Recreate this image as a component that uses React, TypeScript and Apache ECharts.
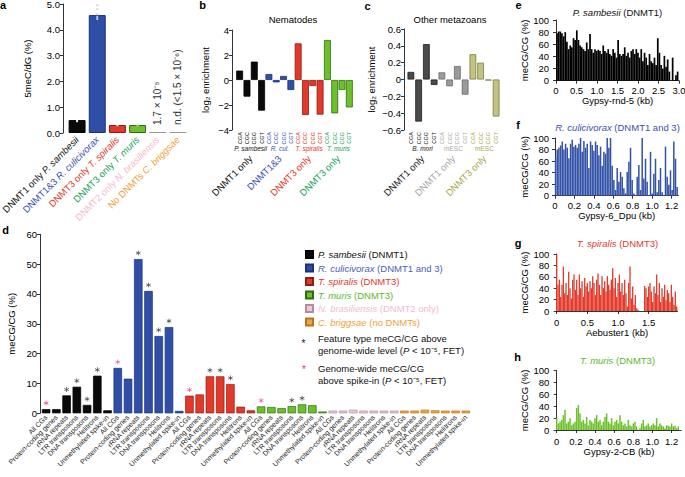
import React, { useEffect, useRef } from "react";
import * as echarts from "echarts";

const FONT = '"Liberation Sans", Arial, Helvetica, sans-serif';

// ---------- Panel a ----------
const aPrefixes = ["DNMT1 only", "DNMT1&3", "DNMT3 only", "DNMT3 only", "DNMT2 only", "No DNMTs"];
const aSpecies = ["P. sambesii", "R. culicivorax", "T. spiralis", "T. muris", "N. brasiliensis", "C. briggsae"];
const aMeasured = [0.5, 4.57, 0.31, 0.31];
const aTrace = [1.7e-5, 0];
const aTraceText = ["1.7 × 10⁻⁵", "n.d. (<1.5 × 10⁻⁶)"];
const aReplicates = [[0.45, 0.47, 0.48], [4.42, 4.5, 4.6, 4.8, 4.95], [0.3, 0.31], [0.3, 0.32]];

// ---------- Panel b (nematodes) ----------
const cgTypes = ["CGA", "CGC", "CGG", "CGT"];
const nemSpecies = ["P. sambesii", "R. cul.", "T. spiralis", "T. muris"];
const nemGroups = ["DNMT1 only", "DNMT1&3", "DNMT3 only", "DNMT3 only"];
const nemPsam = [0.75, -1.33, 1.47, -2.45];
const nemRcul = [0.48, -0.19, 0.32, -0.8];
const nemTspi = [2.93, -2.8, -0.48, -2.77];
const nemTmur = [3.2, -2.67, -0.8, -2.19];

// ---------- Panel c (other metazoans) ----------
const metaSpecies = ["B. mori", "mESC", "mESC"];
const metaGroups = ["DNMT1 only", "DNMT1 only", "DNMT3 only"];
const metaBmori = [0.09, -0.5, 0.42, -0.065];
const metaMescD1 = [0.085, -0.08, 0.16, -0.18];
const metaMescD3 = [0.3, 0.2, -0.012, -0.44];

// ---------- Panel d ----------
const dFeatures = ["All CGs", "Protein-coding genes", "rRNA repeats", "LTR transposons", "DNA transposons", "Helitrons", "Unmethylated spike-in"];
const dSpecies = ["P. sambesii", "R. culicivorax", "T. spiralis", "T. muris", "N. brasiliensis", "C. briggsae"];
const dSuffix = ["(DNMT1)", "(DNMT1 and 3)", "(DNMT3)", "(DNMT3)", "(DNMT2 only)", "(no DNMTs)"];
const dPsam = [1.4, 1.4, 6.0, 8.9, 2.8, 12.6, 1.0];
const dRcul = [15.2, 11.6, 51.7, 41.0, 25.9, 28.9, 0.8];
const dTspi = [5.9, 6.3, 12.4, 12.4, 9.8, 2.2, 1.0];
const dTmur = [2.3, 2.1, 1.7, 2.4, 3.0, 2.7, 0.6];
const dNbra = [0.9, 0.9, 1.2, 0.9, 0.9, 0.9, 0.9];
const dCbri = [0.9, 0.9, 1.2, 1.0, 0.9, 0.9, 0.9];
const dFeatureSig = [
  [0, 0, 1, 1, 1, 1, 0],
  [0, 0, 1, 1, 1, 1, 0],
  [0, 0, 1, 1, 1, 0, 0],
  [0, 0, 0, 1, 1, 0, 0],
  [0, 0, 0, 0, 0, 0, 0],
  [0, 0, 0, 0, 0, 0, 0],
];
const dSpikeSig = [1, 1, 1, 1, 0, 0];

// ---------- Panels e-h (meCG/CG along TE, %) ----------
const eStart = 0.024, eStep = 0.0403;
const eValues = [78, 81, 81, 78, 73, 80, 64, 52, 58, 55, 70, 67, 83, 67, 58, 55, 52, 49, 63, 52, 77, 52, 46, 52, 49, 51, 49, 44, 58, 49, 46, 52, 44, 41, 52, 46, 38, 67, 44, 41, 44, 55, 41, 46, 38, 49, 52, 44, 52, 46, 38, 52, 32, 46, 38, 26, 44, 32, 29, 38, 26, 70, 46, 26, 20, 41, 23, 35, 15, 0, 38, 1, 9, 15];
const fStart = 0.006, fStep = 0.01714;
const fValues = [65, 80, 83, 87, 94, 80, 90, 83, 65, 90, 97, 85, 88, 83, 90, 100, 76, 95, 83, 90, 48, 94, 88, 78, 94, 88, 70, 85, 52, 76, 73, 100, 83, 100, 52, 27, 10, 48, 24, 41, 33, 13, 4, 41, 59, 83, 27, 4, 1, 33, 53, 10, 100, 30, 64, 24, 1, 76, 4, 38, 64, 6, 27, 48, 6, 1, 85, 33, 19, 44, 10, 94, 64, 15];
const gStart = 0.0, gStep = 0.02174;
const gValues = [99, 46, 55, 25, 46, 78, 31, 49, 28, 69, 40, 22, 55, 64, 37, 55, 28, 64, 40, 52, 25, 58, 43, 49, 34, 52, 40, 61, 49, 28, 55, 66, 46, 28, 61, 40, 52, 34, 61, 46, 37, 55, 75, 40, 58, 25, 49, 64, 34, 49, 28, 55, 31, 8, 49, 78, 22, 43, 11, 28, 5, 2, 0, 0, 0, 0, 44, 40, 25, 43, 49, 34, 16, 43, 31, 64, 28, 49, 16, 40, 25, 46, 19, 37, 31, 16, 46, 25, 11, 34, 8];
const hStart = 0.0, hStep = 0.01739;
const hValues = [20, 11, 14, 17, 25, 34, 11, 14, 20, 8, 11, 14, 37, 42, 28, 14, 17, 11, 22, 8, 17, 14, 11, 20, 25, 14, 17, 8, 14, 22, 28, 14, 11, 20, 8, 14, 17, 11, 25, 14, 8, 11, 6, 17, 8, 6, 11, 14, 6, 0, 3, 11, 17, 6, 8, 11, 6, 8, 11, 8, 20, 6, 11, 8, 6, 3, 8, 7, 6, 11, 6, 7, 3, 6];
const eTicks = [0, 0.5, 1.0, 1.5, 2.0, 2.5, 3.0];
const fTicks = [0, 0.2, 0.4, 0.6, 0.8, 1.0, 1.2];
const gTicks = [0, 0.5, 1.0, 1.5];
const hTicks = [0, 0.2, 0.4, 0.6, 0.8, 1.0, 1.2];

// ---------- styles ----------
const spFill = ["#0a0a0a", "#2f4fa6", "#e2392a", "#6cc12a", "#f1c6d6", "#f2a43a"];
const spBorder = ["#000000", "#1b3178", "#8c1d12", "#2f6b12", "#b48c9e", "#b67520"];
const spLabel = ["#111111", "#3c4fb3", "#e2392a", "#22a05c", "#f3bccf", "#f0a23a"];
const spLegend = ["#111111", "#4a5fb8", "#e2392a", "#5cb82c", "#f3bccf", "#f0a23a"];
const metaFill = ["#4a4a4a", "#9a9a9a", "#c2c282"];
const metaBorder = ["#1e1e1e", "#6a6a6a", "#7c7c40"];
const metaLabel = ["#222222", "#a8a8a8", "#a9a955"];
const ASTERISK = "path://M4.4,0L5.6,0L5.6,10L4.4,10Z M0.37,3.02L0.97,1.98L9.63,6.98L9.03,8.02Z M0.37,6.98L9.03,1.98L9.63,3.02L0.97,8.02Z";

const txt = (size: number, color = "#000", extra: any = {}) => ({ fontSize: size, color, fontFamily: FONT, fontWeight: "normal", ...extra });
const axLine = { show: true, lineStyle: { color: "#000", width: 0.8 } };

function yAx(grid: number, min: number, max: number, interval: number, fmt: any, name: string, nameGap: number, offset: number) {
  return {
    type: "value", gridIndex: grid, position: "left", min, max, interval, offset,
    axisLine: axLine,
    axisTick: { show: true, length: 3, lineStyle: { color: "#000", width: 0.8 } },
    splitLine: { show: false },
    axisLabel: { formatter: fmt, margin: 3, ...txt(9.5) },
    name, nameLocation: "middle", nameGap, nameTextStyle: txt(9.5), nameMoveOverlap: false,
  };
}

function xVal(grid: number, max: number, ticks: number[], name: string, offset: number) {
  return {
    type: "value", gridIndex: grid, position: "bottom", min: 0, max, offset,
    axisLine: axLine,
    axisTick: { show: true, length: 3, customValues: ticks, lineStyle: { color: "#000", width: 0.8 } },
    axisLabel: { customValues: ticks, formatter: (v: number) => (v === 0 ? "0" : v.toFixed(1)), margin: 1, ...txt(9.5) },
    splitLine: { show: false },
    name, nameLocation: "middle", nameGap: 11, nameTextStyle: txt(9.5), nameMoveOverlap: false,
  };
}

function catAx(grid: number, data: string[], label: any) {
  return {
    type: "category", gridIndex: grid, position: "bottom", data,
    axisLine: { show: false }, axisTick: { show: false }, splitLine: { show: false },
    axisLabel: { interval: 0, ...label },
  };
}

const signed = (v: number, digits: number) => {
  if (Math.abs(v) < 1e-9) return "0";
  const s = Math.abs(v).toFixed(digits);
  return v < 0 ? "−" + s : s;
};

function buildOption(): any {
  const grids = [
    { left: 67, top: 4, width: 121, height: 129 },
    { left: 236, top: 30, width: 117, height: 100 },
    { left: 407, top: 29, width: 93, height: 101 },
    { left: 41, top: 234.3, width: 430, height: 179 },
    { left: 556, top: 20, width: 123, height: 60.7 },
    { left: 555, top: 138, width: 123.4, height: 57.7 },
    { left: 556.7, top: 254, width: 120.8, height: 57 },
    { left: 556.7, top: 370.7, width: 124.5, height: 59.3 },
  ].map((g) => ({ ...g, containLabel: false, outerBoundsMode: "none" }));

  const aRich: any = {};
  aSpecies.forEach((_, i) => {
    aRich["n" + i] = txt(9.5, spLabel[i]);
    aRich["i" + i] = txt(9.5, spLabel[i], { fontStyle: "italic" });
  });
  const nemCats = nemSpecies.flatMap((_, g) => cgTypes.map((c) => `${g}:${c}`));
  const nemRich: any = {};
  nemSpecies.forEach((_, g) => {
    nemRich["c" + g] = txt(5.5, spLabel[g]);
    nemRich["s" + g] = txt(6.5, spLabel[g], { fontStyle: "italic" });
    nemRich["g" + g] = txt(9.5, spLabel[g]);
  });
  const metaCats = metaSpecies.flatMap((_, g) => cgTypes.map((c) => `${g}:${c}`));
  const metaRich: any = {};
  metaSpecies.forEach((_, g) => {
    metaRich["c" + g] = txt(5.5, metaLabel[g]);
    metaRich["s" + g] = txt(6.5, metaLabel[g], { fontStyle: g === 0 ? "italic" : "normal" });
    metaRich["g" + g] = txt(9.5, metaLabel[g]);
  });
  const dCats = dSpecies.flatMap((s, k) => dFeatures.map((f) => `${k}:${f}`));
  const legendNames = dSpecies.map((s, k) => `${s} ${dSuffix[k]}`);
  const legRich: any = {};
  dSpecies.forEach((_, k) => {
    legRich["i" + k] = txt(9.5, spLegend[k], { fontStyle: "italic" });
    legRich["n" + k] = txt(9.5, spLegend[k]);
  });

  const xAxis = [
    catAx(0, aSpecies, { rotate: 45, margin: 5, formatter: (v: string, i: number) => `{n${i}|${aPrefixes[i]} }{i${i}|${aSpecies[i]}}`, rich: aRich, ...txt(9.5) }),
    catAx(1, nemCats, { rotate: 90, margin: 2, formatter: (v: string) => { const [g, c] = v.split(":"); return `{c${g}|${c}}`; }, rich: nemRich, ...txt(5.5) }),
    catAx(1, nemSpecies, { margin: 15, formatter: (v: string, i: number) => `{s${i}|${v}}`, rich: nemRich, ...txt(6.5) }),
    catAx(1, nemGroups.map((g, i) => `${i}:${g}`), { rotate: 45, margin: 27, formatter: (v: string) => { const [g, n] = v.split(":"); return `{g${g}|${n}}`; }, rich: nemRich, ...txt(9.5) }),
    catAx(2, metaCats, { rotate: 90, margin: 2, formatter: (v: string) => { const [g, c] = v.split(":"); return `{c${g}|${c}}`; }, rich: metaRich, ...txt(5.5) }),
    catAx(2, metaSpecies.map((s, i) => `${i}:${s}`), { margin: 15, formatter: (v: string) => { const [g, n] = v.split(":"); return `{s${g}|${n}}`; }, rich: metaRich, ...txt(6.5) }),
    catAx(2, metaGroups.map((g, i) => `${i}:${g}`), { rotate: 45, margin: 27, formatter: (v: string) => { const [g, n] = v.split(":"); return `{g${g}|${n}}`; }, rich: metaRich, ...txt(9.5) }),
    catAx(3, dCats, { rotate: 45, margin: 3, formatter: (v: string) => v.split(":")[1], ...txt(7, "#222") }),
    xVal(4, 3.0, eTicks, "Gypsy-rnd-5 (kb)", 4),
    xVal(5, 1.27, fTicks, "Gypsy-6_Dpu (kb)", 4),
    xVal(6, 1.97, gTicks, "Aebuster1 (kb)", 5),
    xVal(7, 1.3, hTicks, "Gypsy-2-CB (kb)", 5),
  ];

  const yAxis = [
    yAx(0, 0, 5, 1, (v: number) => v.toFixed(1), "5meC/dG (%)", 31, 4),
    yAx(1, -4, 4, 2, (v: number) => signed(v, 0), "log₂ enrichment", 22, 4),
    yAx(2, -0.6, 0.6, 0.2, (v: number) => signed(v, 1), "log₂ enrichment", 28, 3),
    yAx(3, 0, 60, 10, (v: number) => String(v), "meCG/CG (%)", 24, 1),
    yAx(4, 0, 100, 20, (v: number) => String(v), "meCG/CG (%)", 23, 4),
    yAx(5, 0, 100, 20, (v: number) => String(v), "meCG/CG (%)", 23, 3),
    yAx(6, 0, 100, 20, (v: number) => String(v), "meCG/CG (%)", 23, 4.4),
    yAx(7, 0, 100, 20, (v: number) => String(v), "meCG/CG (%)", 23, 4.4),
  ];

  const series: any[] = [];
  // a
  series.push({
    type: "bar", xAxisIndex: 0, yAxisIndex: 0, stack: "a", barCategoryGap: "16%",
    data: aSpecies.map((_, i) => (i < aMeasured.length ? { value: aMeasured[i], itemStyle: { color: spFill[i], borderColor: spBorder[i], borderWidth: 1 } } : "-")),
  });
  series.push({
    type: "bar", xAxisIndex: 0, yAxisIndex: 0, stack: "a", barCategoryGap: "16%", barMinHeight: 1,
    itemStyle: { color: "#9a9a9a" },
    data: aSpecies.map((_, i) => (i >= aMeasured.length ? aTrace[i - aMeasured.length] : "-")),
    label: {
      show: true, position: "top", rotate: 90, align: "left", verticalAlign: "middle", distance: 7,
      formatter: (p: any) => aTraceText[p.dataIndex - aMeasured.length] || "", ...txt(10, "#333"),
    },
  });
  series.push({
    type: "scatter", xAxisIndex: 0, yAxisIndex: 0, symbolSize: 2.2, z: 5,
    data: aReplicates.flatMap((arr, i) => arr.map((v) => ({ value: [i, v], itemStyle: { color: v > aMeasured[i] ? "#c8c8c8" : "#f4f4f4" } }))),
  });
  // b
  const nemVals = [nemPsam, nemRcul, nemTspi, nemTmur];
  series.push({
    type: "bar", xAxisIndex: 1, yAxisIndex: 1, barCategoryGap: "6%",
    data: nemVals.flatMap((arr, g) => arr.map((v) => ({ value: v, itemStyle: { color: spFill[g], borderColor: spBorder[g], borderWidth: 0.8 } }))),
  });
  // c
  const metaVals = [metaBmori, metaMescD1, metaMescD3];
  series.push({
    type: "bar", xAxisIndex: 4, yAxisIndex: 2, barCategoryGap: "13%",
    data: metaVals.flatMap((arr, g) => arr.map((v) => ({ value: v, itemStyle: { color: metaFill[g], borderColor: metaBorder[g], borderWidth: 0.8 } }))),
  });
  // d bars
  const dVals = [dPsam, dRcul, dTspi, dTmur, dNbra, dCbri];
  dVals.forEach((vals, s) => {
    series.push({
      type: "bar", name: legendNames[s], xAxisIndex: 7, yAxisIndex: 3, stack: "d", barCategoryGap: "17%",
      itemStyle: { color: spFill[s], borderColor: spBorder[s], borderWidth: 0.7 },
      data: dCats.map((_, i) => {
        const sp = Math.floor(i / dFeatures.length);
        const f = i % dFeatures.length;
        return sp === s ? vals[f] : "-";
      }),
    });
  });
  // d significance asterisks, placed at the bar tops
  const starPoints = (pick: (s: number, f: number) => boolean) => {
    const pts: any[] = [];
    dVals.forEach((vals, s) => vals.forEach((v, f) => { if (pick(s, f)) pts.push([s * dFeatures.length + f, v]); }));
    return pts;
  };
  [
    { color: "#111111", pts: starPoints((s, f) => dFeatureSig[s][f] === 1) },
    { color: "#e0307a", pts: starPoints((s, f) => f === 0 && dSpikeSig[s] === 1) },
  ].forEach((st) => {
    series.push({
      type: "scatter", xAxisIndex: 7, yAxisIndex: 3, symbol: ASTERISK, symbolSize: 5, symbolOffset: [0, -6], z: 6,
      itemStyle: { color: st.color },
      data: st.pts,
    });
  });
  // e-h
  const profiles = [
    { vals: eValues, start: eStart, step: eStep, color: "#000000", w: 1.7 },
    { vals: fValues, start: fStart, step: fStep, color: "#3252a8", w: 1.5 },
    { vals: gValues, start: gStart, step: gStep, color: "#e2392a", w: 1.3 },
    { vals: hValues, start: hStart, step: hStep, color: "#6cc12a", w: 1.5 },
  ];
  profiles.forEach((p, k) => {
    series.push({
      type: "bar", xAxisIndex: 8 + k, yAxisIndex: 4 + k, barWidth: p.w,
      itemStyle: { color: p.color },
      data: p.vals.map((v, i) => [p.start + i * p.step, v]),
    });
  });

  const italicTitle = (sp: string, rest: string, color: string, left: number, top: number) => ({
    text: `{i|${sp}} ${rest}`, left, top, textAlign: "center", padding: 0,
    textStyle: { ...txt(9.5, color), rich: { i: txt(9.5, color, { fontStyle: "italic" }) } },
  });

  const letter = (t: string, x: number, y: number) => ({
    type: "text", x, y, silent: true,
    style: { text: t, fontSize: 11, fontWeight: "bold", fontFamily: FONT, fill: "#000", align: "center", verticalAlign: "middle" },
  });
  const note = (text: string, x: number, y: number) => ({
    type: "text", x, y, silent: true,
    style: { text, fontSize: 9.5, fontFamily: FONT, fill: "#111", lineHeight: 12, align: "left", verticalAlign: "top", rich: { i: { fontSize: 9.5, fontFamily: FONT, fontStyle: "italic", fill: "#111", lineHeight: 12 } } },
  });
  const star = (color: string, x: number, y: number) => ({
    type: "text", x, y, silent: true,
    style: { text: "*", fontSize: 10, fontFamily: FONT, fill: color, align: "center", verticalAlign: "middle" },
  });

  return {
    animation: false,
    backgroundColor: "#ffffff",
    textStyle: { fontFamily: FONT },
    grid: grids,
    xAxis,
    yAxis,
    series,
    title: [
      { text: "Nematodes", left: 293, top: 14.5, textAlign: "center", padding: 0, textStyle: txt(9.5) },
      { text: "Other metazoans", left: 450, top: 14, textAlign: "center", padding: 0, textStyle: txt(9.5) },
      italicTitle("P. sambesii", "(DNMT1)", "#111111", 617.5, 7.5),
      italicTitle("R. culicivorax", "(DNMT1 and 3)", "#3c4fb3", 617.5, 122),
      italicTitle("T. spiralis", "(DNMT3)", "#e2392a", 617.5, 238),
      italicTitle("T. muris", "(DNMT3)", "#5cb82c", 617.5, 355),
    ],
    legend: {
      data: legendNames, orient: "vertical", left: 305, top: 249, padding: 0,
      itemWidth: 7, itemHeight: 7, itemGap: 2.5, icon: "rect", selectedMode: false,
      formatter: (name: string) => {
        const k = legendNames.indexOf(name);
        return `{i${k}|${dSpecies[k]}}{n${k}| ${dSuffix[k]}}`;
      },
      textStyle: { ...txt(9.5), lineHeight: 11, rich: legRich },
    },
    graphic: [
      letter("a", 3, 5),
      letter("b", 202.5, 5),
      letter("c", 367.5, 5.5),
      letter("d", 5.5, 229.5),
      letter("e", 518.5, 5),
      letter("f", 518, 125),
      letter("g", 518, 243),
      letter("h", 517.5, 357),
      star("#111111", 303.5, 343),
      note("Feature type meCG/CG above\ngenome-wide level ({i|P} < 10⁻⁵, FET)", 318, 332),
      star("#e0307a", 304, 369.5),
      note("Genome-wide meCG/CG\nabove spike-in ({i|P} < 10⁻⁵, FET)", 318, 362),
    ],
  };
}

export default function App() {
  const ref = useRef<HTMLDivElement>(null);
  useEffect(() => {
    if (!ref.current) return;
    const chart = echarts.init(ref.current, undefined, { renderer: "svg" });
    chart.setOption(buildOption());
    return () => chart.dispose();
  }, []);
  return <div ref={ref} style={{ position: "absolute", left: 0, top: 0, width: 685, height: 477, background: "#fff" }} />;
}
